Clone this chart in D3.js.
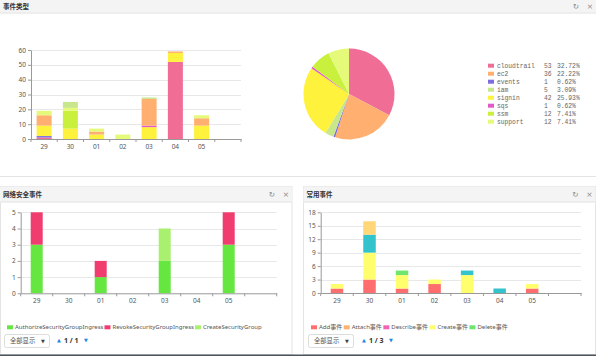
<!DOCTYPE html>
<html><head><meta charset="utf-8">
<script src="https://cdn.jsdelivr.net/npm/d3@7/dist/d3.min.js"></script>
<style>
html,body{margin:0;padding:0;background:#fff;}
svg{display:block;font-family:"Noto Sans","Noto Sans CJK SC",sans-serif;}
</style></head><body>
<svg id="c" width="596" height="356"></svg>
<script>
// ---------- DATA ----------
const days = ["29","30","01","02","03","04","05"];

// top panel: event types
const typeNames  = ["cloudtrail","ec2","events","iam","signin","sqs","ssm","support"];
const typeColors = ["#f06e96","#ffb070","#7b6fe0","#c8e68c","#fff23c","#e05ac8","#c8f03c","#e4fa78"];
const typeTotals = [53,36,1,5,42,1,12,12];
const cloudtrail = [1,0,0,0,0,52,0];
const ec2        = [7,0,2,0,18,1,5];
const events     = [1,0,0,0,0,0,0];
const iam        = [0,4,0,0,1,0,0];
const signin     = [7,7,3,0,8,6,9];
const sqs        = [0,0,0,0,1,0,0];
const ssm        = [0,12,0,0,0,0,0];
const support    = [3,2,2,3,0,0,2];
const typeStackOrder = ["cloudtrail","events","signin","sqs","ec2","ssm","support","iam"];
const typeSeries = {cloudtrail, ec2, events, iam, signin, sqs, ssm, support};
const topTicks = [0,10,20,30,40,50,60];

// bottom-left: network security events
const secNames  = ["AuthorizeSecurityGroupIngress","RevokeSecurityGroupIngress","CreateSecurityGroup"];
const secColors = ["#66e640","#f03c6e","#a8f06e"];
const authorizeSGI = [3,0,1,0,2,0,3];
const revokeSGI    = [2,0,1,0,0,0,2];
const createSG     = [0,0,0,0,2,0,0];
const secTicks = [0,1,2,3,4,5];

// bottom-right: common events (legend page 1 of 3 shows first five)
const comNames  = ["Add事件","Attach事件","Describe事件","Create事件","Delete事件","Get事件","Put事件"];
const comColors = ["#ff6e6e","#ffb46e","#f064b4","#ffff6e","#6ee66e","#32c3cd","#ffd778"];
const addEv      = [1,3,1,2,0,0,1];
const attachEv   = [0,0,0,0,0,0,0];
const describeEv = [0,0,0,0,0,0,0];
const createEv   = [1,6,3,1,4,0,1];
const deleteEv   = [0,0,1,0,0,0,0];
const getEv      = [0,4,0,0,1,1,0];
const putEv      = [0,3,0,0,0,0,0];
const comTicks = [0,3,6,9,12,15,18];
const comLegendCount = 5;

// ---------- DRAW ----------
const svg = d3.select("#c");

function panelHeader(x, w, y, h, title) {
  svg.append("rect").attr("x", x).attr("y", y).attr("width", w).attr("height", h)
    .attr("fill", "#f4f4f4");
  svg.append("line").attr("x1", x).attr("x2", x + w).attr("y1", y + h - 0.5).attr("y2", y + h - 0.5)
    .attr("stroke", "#e6e6e6");
  svg.append("text").attr("x", x + 3).attr("y", y + h / 2).attr("dy", "0.35em")
    .attr("font-family", "'Noto Sans CJK SC',sans-serif").attr("font-weight", "bold")
    .attr("font-size", 6.5).attr("fill", "#333").text(title);
  svg.append("text").attr("x", x + w - 20).attr("y", y + h / 2).attr("dy", "0.35em")
    .attr("text-anchor", "middle").attr("font-family", "DejaVu Sans").attr("font-size", 7.5)
    .attr("fill", "#888").text("↻");
  svg.append("text").attr("x", x + w - 6).attr("y", y + h / 2).attr("dy", "0.35em")
    .attr("text-anchor", "middle").attr("font-family", "DejaVu Sans").attr("font-size", 7.5)
    .attr("fill", "#888").text("×");
}

function barChart(opt) {
  const cats = days.concat([""]);
  const x = d3.scaleBand().domain(cats).range(opt.xRange).padding(0);
  const y = d3.scaleLinear().domain([0, opt.yMax]).range(opt.yRange);
  const g = svg.append("g");
  g.selectAll(".grid").data(opt.ticks.filter(t => t > 0)).join("line")
    .attr("x1", opt.xRange[0]).attr("x2", opt.xRange[1])
    .attr("y1", d => Math.round(y(d)) + 0.5).attr("y2", d => Math.round(y(d)) + 0.5)
    .attr("stroke", "#e8e8e8").attr("stroke-width", 1);
  const rows = days.map((d, i) => {
    const o = {day: d};
    opt.keys.forEach(k => o[k] = opt.series[k][i]);
    return o;
  });
  const stack = d3.stack().keys(opt.keys)(rows);
  const bw = x.bandwidth();
  stack.forEach(layer => {
    g.append("g").selectAll("rect").data(layer).join("rect")
      .attr("x", d => x(d.data.day) + (bw - opt.barW) / 2)
      .attr("width", opt.barW)
      .attr("y", d => y(d[1]))
      .attr("height", d => Math.max(0, y(d[0]) - y(d[1])))
      .attr("fill", opt.color(layer.key));
  });
  const ya = g.append("g").attr("transform", `translate(${opt.xRange[0]},0)`)
    .call(d3.axisLeft(y).tickValues(opt.ticks).tickFormat(d3.format("d"))
      .tickSize(3).tickSizeOuter(0).tickPadding(2));
  const xa = g.append("g").attr("transform", `translate(0,${opt.yRange[0]})`)
    .call(d3.axisBottom(x).tickSize(0).tickSizeOuter(0).tickPadding(5));
  [ya, xa].forEach(a => {
    a.select(".domain").attr("stroke", "#999");
    a.selectAll(".tick line").attr("stroke", "#999");
    a.selectAll("text").attr("fill", "#555").attr("font-size", 6.5)
      .attr("font-family", "'Noto Sans',sans-serif");
  });
  g.selectAll(".bt").data(d3.range(cats.length + 1)).join("line")
    .attr("x1", i => opt.xRange[0] + i * x.step()).attr("x2", i => opt.xRange[0] + i * x.step())
    .attr("y1", opt.yRange[0]).attr("y2", opt.yRange[0] + 3).attr("stroke", "#999");
}

function legendRow(x0, y0, names, colors, gap) {
  let x = x0;
  names.forEach((n, i) => {
    svg.append("rect").attr("x", x).attr("y", y0 - 2).attr("width", 6).attr("height", 4)
      .attr("fill", colors[i]);
    const t = svg.append("text").attr("x", x + 8).attr("y", y0).attr("dy", "0.35em")
      .attr("font-size", 6).attr("fill", "#555")
      .attr("font-family", "'Noto Sans','Noto Sans CJK SC',sans-serif").text(n);
    x += 8 + t.node().getComputedTextLength() + gap;
  });
}

function pager(x0, y0, x1, pageText) {
  svg.append("rect").attr("x", x0 + 0.5).attr("y", y0 + 0.5).attr("width", 45).attr("height", 13)
    .attr("rx", 2).attr("fill", "#fff").attr("stroke", "#dcdcdc");
  svg.append("text").attr("x", x0 + 6).attr("y", y0 + 7).attr("dy", "0.35em")
    .attr("font-size", 6.3).attr("fill", "#555")
    .attr("font-family", "'Noto Sans CJK SC',sans-serif").text("全部显示");
  svg.append("text").attr("x", x0 + 39).attr("y", y0 + 7).attr("dy", "0.35em")
    .attr("text-anchor", "middle").attr("font-size", 5).attr("fill", "#444")
    .attr("font-family", "DejaVu Sans").text("▼");
  svg.append("text").attr("x", x1).attr("y", y0 + 6.5).attr("dy", "0.35em")
    .attr("font-size", 5).attr("fill", "#1e88e5").attr("font-family", "DejaVu Sans").text("▲");
  svg.append("text").attr("x", x1 + 7).attr("y", y0 + 6.5).attr("dy", "0.35em")
    .attr("font-size", 7).attr("fill", "#333").attr("font-weight", "bold")
    .attr("font-family", "'Noto Sans',sans-serif").text(pageText);
  svg.append("text").attr("x", x1 + 27).attr("y", y0 + 6.5).attr("dy", "0.35em")
    .attr("font-size", 5).attr("fill", "#1e88e5").attr("font-family", "DejaVu Sans").text("▼");
}

// panel borders
svg.append("line").attr("x1", 0).attr("x2", 596).attr("y1", 176.5).attr("y2", 176.5).attr("stroke", "#e4e4e4");
svg.append("rect").attr("x", 0.5).attr("y", 186.5).attr("width", 291.5).attr("height", 168)
  .attr("fill", "#fff").attr("stroke", "#e4e4e4");
svg.append("rect").attr("x", 303.5).attr("y", 186.5).attr("width", 292).attr("height", 168)
  .attr("fill", "#fff").attr("stroke", "#e4e4e4");

panelHeader(0, 596, 0, 13.5, "事件类型");
panelHeader(0, 292, 186.5, 16, "网络安全事件");
panelHeader(303.5, 292, 186.5, 16, "常用事件");

// top bar chart
barChart({
  xRange: [31, 241], yRange: [139, 50], yMax: 60, ticks: topTicks, barW: 15,
  keys: typeStackOrder, series: typeSeries,
  color: k => typeColors[typeNames.indexOf(k)]
});

// pie
const pie = d3.pie().sort(null).value(d => d)(typeTotals);
const arc = d3.arc().innerRadius(0).outerRadius(45.5);
svg.append("g").attr("transform", "translate(349,94)")
  .selectAll("path").data(pie).join("path")
  .attr("d", arc).attr("fill", (d, i) => typeColors[i]);

// pie legend
const totalAll = d3.sum(typeTotals);
typeNames.forEach((n, i) => {
  const yy = 65.7 + i * 8;
  svg.append("rect").attr("x", 488).attr("y", yy - 2).attr("width", 6).attr("height", 4)
    .attr("fill", typeColors[i]);
  const tf = s => s.attr("y", yy).attr("dy", "0.35em").attr("font-size", 6.3)
    .attr("font-family", "'Liberation Mono',monospace").attr("fill", "#666");
  svg.append("text").attr("x", 497).call(tf).text(n);
  svg.append("text").attr("x", 544).call(tf).text(typeTotals[i]);
  svg.append("text").attr("x", 557).call(tf).text((typeTotals[i] / totalAll * 100).toFixed(2) + "%");
});

// bottom-left
barChart({
  xRange: [20.7, 276.7], yRange: [293.3, 212.3], yMax: 5, ticks: secTicks, barW: 12,
  keys: secNames,
  series: {[secNames[0]]: authorizeSGI, [secNames[1]]: revokeSGI, [secNames[2]]: createSG},
  color: k => secColors[secNames.indexOf(k)]
});
legendRow(7, 327.3, secNames, secColors, 1);
pager(4, 334, 57, "1 / 1");

// bottom-right
const comSeries = {};
[addEv, attachEv, describeEv, createEv, deleteEv, getEv, putEv].forEach((a, i) => comSeries[comNames[i]] = a);
barChart({
  xRange: [320.7, 581], yRange: [293, 212.3], yMax: 18, ticks: comTicks, barW: 12.5,
  keys: comNames, series: comSeries,
  color: k => comColors[comNames.indexOf(k)]
});
legendRow(311, 327.3, comNames.slice(0, comLegendCount), comColors.slice(0, comLegendCount), 1.5);
pager(308, 334, 362, "1 / 3");

// bottom dark strip
svg.append("rect").attr("x", 0).attr("y", 354.5).attr("width", 596).attr("height", 1.5).attr("fill", "#4b535c");
</script>
</body></html>
